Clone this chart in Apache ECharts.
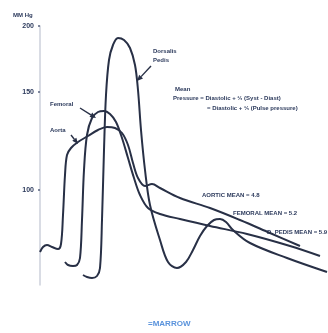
<!DOCTYPE html>
<html><head><meta charset="utf-8">
<script src="https://cdn.jsdelivr.net/npm/echarts@6/dist/echarts.min.js"></script>
<style>html,body{margin:0;padding:0;background:#fff}#c{width:328px;height:333px}</style>
</head><body><div id="c"></div>
<script>
// time (arbitrary units) and pressure level (chart units)
const aortaT = [0,3,7,12,18,21,23,25,27,31,38,48,58,67,75,82,88,93,98,105,112,120,140,170,200,230,260];
const aortaP = [48,53,55,53,51,56,85,125,145,152,158,164,170,173,172,167,155,137,122,114,116,112,102,92,80,67,54];
const femoralT = [25,28,33,37,40,42,44,47,52,58,64,70,76,82,88,94,100,108,120,140,170,207,250,280];
const femoralP = [38,35,34,35,42,80,130,165,182,188,189,186,178,162,142,122,105,92,86,81,74,66,54,44];
const pedisT = [43,47,52,57,60,62,64,66,69,73,78,84,90,95,98,101,105,110,120,128,137,146,153,160,167,174,180,186,193,210,247,287];
const pedisP = [25,23,22,24,32,80,150,205,240,255,262,260,252,235,210,170,130,95,60,38,32,38,50,64,74,80,81,78,70,57,42,28];
const tickValues = [274,208,110];
const tickLabels = ['200','150','100'];

const toPairs = (t,p) => t.map((x,i)=>[x,p[i]]);
const ink = '#283046';
const txt = '#2c3a5c';
const F = '"Liberation Sans", Arial, sans-serif';

function arrow(x1,y1,x2,y2){
  const a = Math.atan2(y2-y1,x2-x1), L=6, W=2.6;
  const bx = x2 - L*Math.cos(a), by = y2 - L*Math.sin(a);
  const px = -Math.sin(a)*W, py = Math.cos(a)*W;
  return [
    {type:'line', shape:{x1,y1,x2:bx,y2:by}, style:{stroke:ink,lineWidth:1.4}},
    {type:'polygon', shape:{points:[[x2,y2],[bx+px,by+py],[bx-px,by-py]]}, style:{fill:ink}}
  ];
}
function t(x,y,s,opt){
  return Object.assign({type:'text', x, y, style:Object.assign({text:s, fill:txt, font:'bold 6px '+F, textVerticalAlign:'middle'}, opt||{})});
}

const chart = echarts.init(document.getElementById('c'), null, {renderer:'canvas'});
chart.setOption({
  animation:false,
  backgroundColor:'#ffffff',
  grid:{left:40, right:0, top:26, bottom:48},
  xAxis:{type:'value', min:0, max:288, show:false},
  yAxis:{type:'value', min:15, max:274,
    axisLine:{show:true, lineStyle:{color:'#ccd1db', width:1.5}},
    axisTick:{show:true, customValues:tickValues, length:2, lineStyle:{color:'#5a6480', width:1.5}},
    axisLabel:{show:true, customValues:tickValues, margin:6, color:txt, fontSize:7, fontWeight:'bold', fontFamily:F,
      formatter:(v)=>{const i=tickValues.indexOf(v); return i>=0?tickLabels[i]:'';}},
    splitLine:{show:false}},
  series:[
    {type:'line', data:toPairs(aortaT,aortaP), smooth:0.35, showSymbol:false, lineStyle:{color:ink,width:2}},
    {type:'line', data:toPairs(femoralT,femoralP), smooth:0.35, showSymbol:false, lineStyle:{color:ink,width:2}},
    {type:'line', data:toPairs(pedisT,pedisP), smooth:0.35, showSymbol:false, lineStyle:{color:ink,width:2}}
  ],
  graphic:[
    t(13,15,'MM Hg'),
    t(153,51,'Dorsalis'),
    t(153,60,'Pedis'),
    ...arrow(151,66,137,81),
    t(50,104,'Femoral'),
    ...arrow(80,108,96,118),
    t(50,130,'Aorta'),
    ...arrow(71,135,78,144),
    t(175,89,'Mean'),
    t(173,98,'Pressure = Diastolic + \u2153 (Syst - Diast)'),
    t(207,108,'= Diastolic + \u2153 (Pulse pressure)'),
    t(202,195,'AORTIC MEAN = 4.8'),
    t(233,213,'FEMORAL MEAN = 5.2'),
    t(267,232,'D. PEDIS MEAN = 5.9'),
    t(148,324,'=MARROW',{fill:'#5a93dc', font:'bold 8px '+F})
  ]
});
</script></body></html>
